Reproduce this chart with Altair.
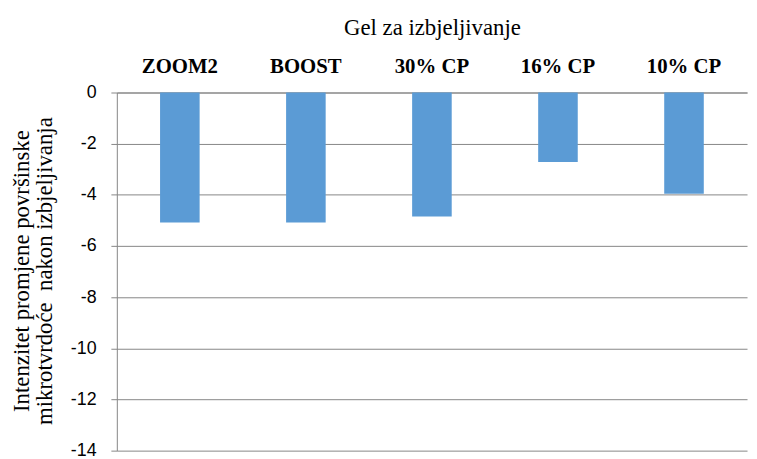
import altair as alt
import pandas as pd

categories = ["ZOOM2", "BOOST", "30% CP", "16% CP", "10% CP"]
values = [-5.08, -5.08, -4.85, -2.72, -3.96]

df = pd.DataFrame({"gel": categories, "val": values})

serif = "Liberation Serif"
sans = "Liberation Sans"
ytitle = [
    "Intenzitet promjene površinske",
    "mikrotvrdoće\u00a0 nakon izbjeljivanja",
]

chart = alt.Chart(df).mark_bar(color="#5B9BD5").encode(
    x=alt.X("gel:N", sort=categories,
            scale=alt.Scale(paddingInner=0.686, paddingOuter=0.343),
            axis=alt.Axis(orient="top", title="Gel za izbjeljivanje", labelAngle=0,
                          labelFont=serif, labelFontSize=21, labelFontWeight="bold",
                          labelColor="#000000", labelPadding=16,
                          titleFont=serif, titleFontSize=23, titleFontWeight="normal",
                          titleColor="#000000", titleBaseline="alphabetic", titleY=-59,
                          ticks=False, domain=True, domainColor="#868686", grid=False)),
    y=alt.Y("val:Q", scale=alt.Scale(domain=[-14, 0], nice=False),
            axis=alt.Axis(values=list(range(-14, 1, 2)),
                          labelExpr="replace(format(datum.value, 'd'), '\u2212', '-')",
                          title=ytitle,
                          labelFont=sans, labelFontSize=18, labelColor="#000000", labelPadding=15,
                          titleFont=serif, titleFontSize=23, titleFontWeight="normal",
                          titleColor="#000000", titleLineHeight=23, titleAngle=-90,
                          titleBaseline="middle", titleX=-96, titleY=180,
                          tickSize=6, tickColor="#868686", domainColor="#868686",
                          gridColor="#868686", gridWidth=1)),
).properties(
    width=637, height=362,
    autosize=alt.AutoSizeParams(type="none"),
    padding={"left": 110, "top": 83, "right": 2, "bottom": 4},
).configure_view(stroke=None)

chart.save("out.html", embed_options={"renderer": "svg", "actions": False})
